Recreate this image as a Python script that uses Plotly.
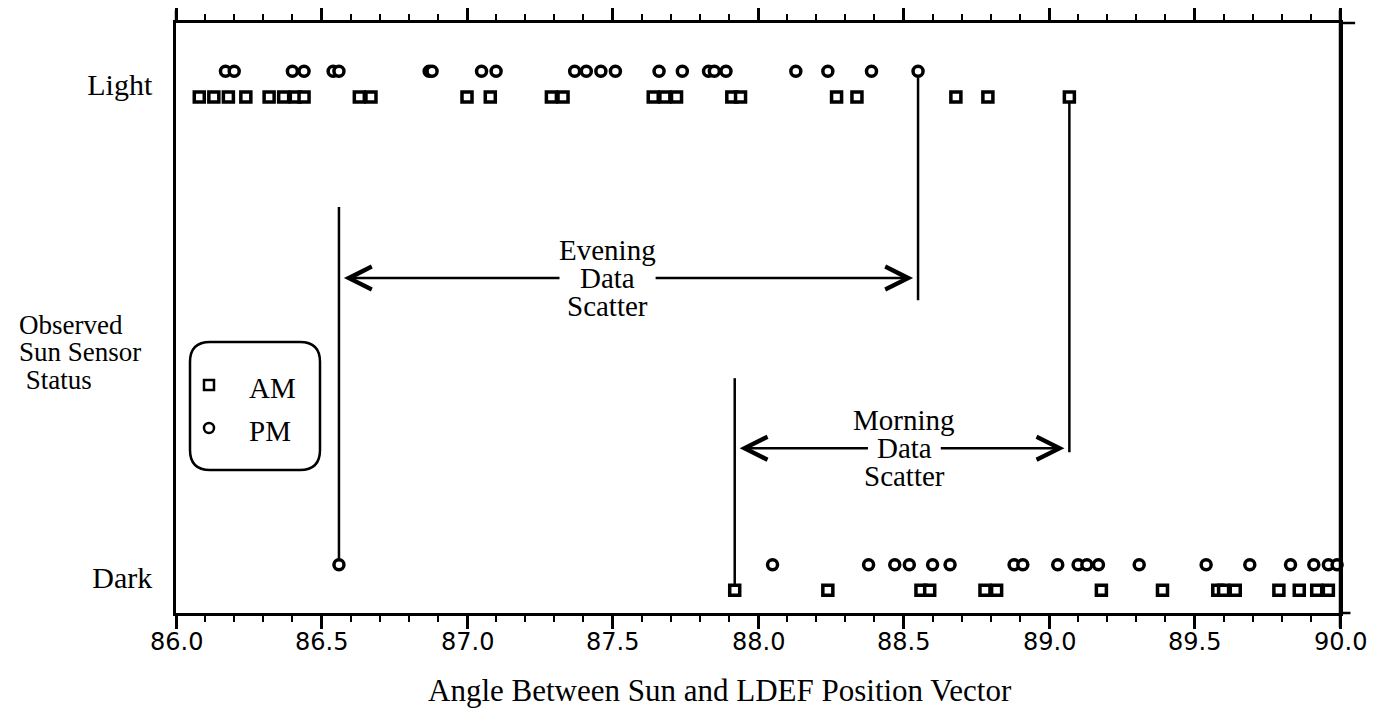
import plotly.graph_objects as go

# Sun sensor observations: angle between Sun and LDEF position vector (deg)
light_am = [86.08, 86.13, 86.18, 86.24, 86.32, 86.37, 86.41, 86.44, 86.63, 86.67,
            87.00, 87.08, 87.29, 87.33, 87.64, 87.68, 87.72, 87.91, 87.94,
            88.27, 88.34, 88.68, 88.79, 89.07]
light_pm = [86.17, 86.20, 86.40, 86.44, 86.54, 86.56, 86.87, 86.88, 87.05, 87.10,
            87.37, 87.41, 87.46, 87.51, 87.66, 87.74, 87.83, 87.85, 87.89,
            88.13, 88.24, 88.39, 88.55]
dark_am = [87.92, 88.24, 88.56, 88.59, 88.78, 88.82, 89.18, 89.39, 89.58, 89.60,
           89.64, 89.79, 89.86, 89.92, 89.96]
dark_pm = [86.56, 88.05, 88.38, 88.47, 88.52, 88.60, 88.66, 88.88, 88.91, 89.03,
           89.10, 89.13, 89.17, 89.31, 89.54, 89.69, 89.83, 89.91, 89.96, 89.99]

status_labels = ["Dark", "Light"]
x_ticks = [86.0, 86.5, 87.0, 87.5, 88.0, 88.5, 89.0, 89.5, 90.0]

LEVEL = {"Light": 1.0, "Dark": 0.0}
OFFSET = {"PM": 0.026, "AM": -0.026}

SERIF = "Liberation Serif, Times New Roman, serif"
FS = 30

# plot area in page pixels (page body has an 8px margin)
OFF = 8
X0, X1, Y0, Y1 = 176, 1340, 23, 613


def paper(px, py):
    return (px - X0) / (X1 - X0), (Y1 - py) / (Y1 - Y0)


fig = go.Figure()

for xs, status, sess in [(light_am, "Light", "AM"), (dark_am, "Dark", "AM"),
                         (light_pm, "Light", "PM"), (dark_pm, "Dark", "PM")]:
    fig.add_trace(go.Scatter(
        x=xs, y=[LEVEL[status] + OFFSET[sess]] * len(xs),
        mode="markers", name=sess, showlegend=False, cliponaxis=False,
        marker=dict(symbol="square" if sess == "AM" else "circle",
                    size=10, color="white", line=dict(color="black", width=3.5)),
    ))

# scatter bounds taken from the data
ev_lo, ev_hi = min(dark_pm), max(light_pm)
mo_lo, mo_hi = min(dark_am), max(light_am)

line = dict(color="black", width=2.5)
shapes = [
    dict(type="line", xref="x", yref="y", x0=ev_lo, x1=ev_lo,
         y0=LEVEL["Dark"] + OFFSET["PM"], y1=0.751, line=line, layer="below"),
    dict(type="line", xref="x", yref="y", x0=ev_hi, x1=ev_hi,
         y0=LEVEL["Light"] + OFFSET["PM"], y1=0.562, line=line, layer="below"),
    dict(type="line", xref="x", yref="y", x0=mo_lo, x1=mo_lo,
         y0=LEVEL["Dark"] + OFFSET["AM"], y1=0.404, line=line, layer="below"),
    dict(type="line", xref="x", yref="y", x0=mo_hi, x1=mo_hi,
         y0=LEVEL["Light"] + OFFSET["AM"], y1=0.254, line=line, layer="below"),
    # frame overhangs
    dict(type="line", xref="paper", yref="paper", x0=0, x1=0, y0=1, y1=1.022, line=line),
    dict(type="line", xref="paper", yref="paper", x0=1, x1=1, y0=-0.024, y1=1.022, line=line),
    dict(type="line", xref="paper", yref="paper", x0=1, x1=1.013, y0=1, y1=1, line=line),
    dict(type="line", xref="paper", yref="paper", x0=1, x1=1.009, y0=0, y1=0, line=line),
]

annotations = []


def arrow(head, tail, y):
    annotations.append(dict(
        x=head, y=y, ax=tail, ay=y, xref="x", yref="y", axref="x", ayref="y",
        text="", showarrow=True, arrowhead=5, arrowsize=1.8, arrowwidth=2.5,
        arrowcolor="black", standoff=0, startstandoff=0,
    ))


def label(x, y, text, xref="x", yref="y", yshift=0, xanchor="center", size=FS,
          family=SERIF):
    annotations.append(dict(
        x=x, y=y, xref=xref, yref=yref, text=text, showarrow=False,
        yshift=yshift, xanchor=xanchor, yanchor="middle",
        font=dict(family=family, size=size, color="black"),
    ))


# Evening scatter
ev_y, ev_tx = 0.607, 87.483
arrow(ev_lo + 0.017, ev_tx - 0.16, ev_y)
arrow(ev_hi - 0.017, ev_tx + 0.16, ev_y)
for txt, dy in [("Evening", 28), ("Data", 0), ("Scatter", -28)]:
    label(ev_tx, ev_y, txt, yshift=dy, size=29)

# Morning scatter
mo_y, mo_tx = 0.262, 88.503
arrow(mo_lo + 0.017, mo_tx - 0.12, mo_y)
arrow(mo_hi - 0.017, mo_tx + 0.12, mo_y)
for txt, dy in [("Morning", 28), ("Data", 0), ("Scatter", -28)]:
    label(mo_tx, mo_y, txt, yshift=dy, size=29)

# y axis title
for txt, py in [("Observed", 325), ("Sun Sensor", 352), ("\u00a0Status", 380)]:
    px_, py_ = paper(17, py)
    label(px_, py_, txt, xref="paper", yref="paper", xanchor="left", size=27)

# x tick labels
_, tick_y = paper(0, 642)
for t in x_ticks:
    label(t, tick_y, f"{t:.1f}", yref="paper", size=24, family="DejaVu Sans")

# x axis title
px_, py_ = paper(720, 690)
label(px_, py_, "Angle Between Sun and LDEF Position Vector", xref="paper", yref="paper", size=31)

# legend box (rounded)
bx0, bx1, by0, by1, r = 190, 320, 342, 470, 20
pts = [("M", bx0 + r, by0), ("L", bx1 - r, by0), ("Q", bx1, by0, bx1, by0 + r),
       ("L", bx1, by1 - r), ("Q", bx1, by1, bx1 - r, by1), ("L", bx0 + r, by1),
       ("Q", bx0, by1, bx0, by1 - r), ("L", bx0, by0 + r), ("Q", bx0, by0, bx0 + r, by0)]
path = ""
for p in pts:
    cmd, coords = p[0], p[1:]
    seg = []
    for i in range(0, len(coords), 2):
        u, v = paper(coords[i], coords[i + 1])
        seg.append(f"{u:.5f},{v:.5f}")
    path += cmd + " ".join(seg) + " "
shapes.append(dict(type="path", xref="paper", yref="paper", path=path + "Z",
                   line=dict(color="black", width=2.5)))

for sym, py, txt in [("rect", 385, "AM"), ("circle", 428, "PM")]:
    ax_, ay_ = paper(209, py)
    shapes.append(dict(type=sym, xref="paper", yref="paper", xsizemode="pixel",
                       ysizemode="pixel", xanchor=ax_, yanchor=ay_,
                       x0=-5, x1=5, y0=-5, y1=5,
                       line=dict(color="black", width=2.5), fillcolor="white"))
    tx_, ty_ = paper(247, py + 3)
    label(tx_, ty_, txt, xref="paper", yref="paper", xanchor="left", size=29)

fig.update_layout(
    width=1377 - OFF, height=714 - OFF,
    margin=dict(l=X0 - OFF, r=1377 - X1, t=Y0 - OFF, b=714 - Y1, autoexpand=False),
    plot_bgcolor="white", paper_bgcolor="white",
    showlegend=False, shapes=shapes, annotations=annotations,
)
fig.update_xaxes(
    range=[86, 90], tickvals=x_ticks, showticklabels=False, automargin=False,
    ticks="outside", ticklen=13, tickwidth=2.5, tickcolor="black",
    minor=dict(dtick=0.1, tick0=86, ticks="outside", ticklen=6, tickwidth=2, tickcolor="black"),
    showline=True, linewidth=2.5, linecolor="black", mirror="ticks",
    showgrid=False, zeroline=False,
)
fig.update_yaxes(
    range=[-0.072, 1.124], tickvals=[LEVEL[s] for s in status_labels], ticktext=status_labels,
    ticks="", showline=True, linewidth=2.5, linecolor="black", mirror=True,
    showgrid=False, zeroline=False, ticklabelstandoff=15, automargin=False,
    tickfont=dict(family=SERIF, size=FS, color="black"),
)

fig.write_html("out.html")
